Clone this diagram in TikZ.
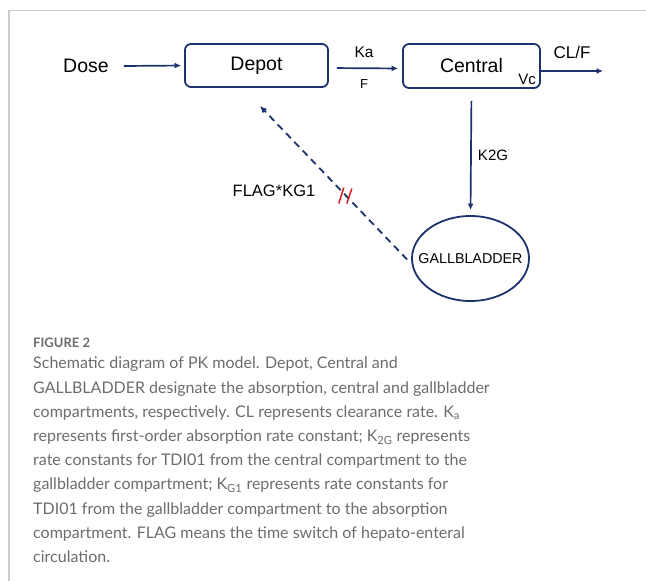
\documentclass[tikz,border=0pt]{standalone}
\usepackage{fontspec}
\setmainfont{Liberation Sans}
\newfontfamily\capfont{Lato}
\usetikzlibrary{arrows.meta,shapes.geometric,calc}
\definecolor{navy}{RGB}{28,50,108}
\definecolor{framegray}{RGB}{205,205,205}
\definecolor{capgray}{RGB}{108,108,108}
\definecolor{cutred}{RGB}{228,30,30}
\tikzset{
  compbox/.style={draw=navy, line width=1.8pt, rounded corners=6pt, font=\fontsize{19.5}{21}\selectfont},
  flow/.style={draw=navy, line width=1.7pt, -{Latex[length=6.5pt,width=6pt]}},
  lbl/.style={font=\fontsize{15}{17}\selectfont, inner sep=0pt},
}
\begin{document}
\begin{tikzpicture}[x=1pt,y=-1pt]
\useasboundingbox (0,0) rectangle (646,581);
% page frame
\draw[framegray, line width=1.4pt] (9,581) -- (9,10.5) -- (646,10.5);

% compartments
\node[compbox, minimum width=143pt, minimum height=43pt] (depot) at (256.5,65.5) {Depot};
\node[compbox, minimum width=137pt, minimum height=44pt] (central) at (471.5,66) {Central};
\node[draw=navy, line width=1.8pt, ellipse, inner sep=0pt, minimum width=117pt, minimum height=85pt,
      label={[font=\fontsize{14.3}{16}\selectfont]center:GALLBLADDER}] (gb) at (470.5,258.5) {};

% dose input
\node[font=\fontsize{19.5}{21}\selectfont, inner xsep=15pt] (dose) at (86,66) {Dose};
\draw[flow, shorten >=3pt] (dose.east) -- (depot.west);

% absorption
\draw[flow, shorten <=8pt, shorten >=4pt] ([yshift=-2.5pt]depot.east) -- ([yshift=-2.5pt]central.west);
\node[lbl, font=\fontsize{15.5}{17}\selectfont] (ka) at (364,52) {Ka};
\node[lbl, font=\fontsize{13}{15}\selectfont] (f) at (364,84) {F};

% clearance
\coordinate (clout) at (603,71);
\draw[flow] (central.east |- clout) -- (clout);
\node[lbl, font=\fontsize{17}{19}\selectfont] (clf) at (572,52) {CL/F};
\node[lbl] (vc) at (527,79) {Vc};

% central to gallbladder
\draw[flow, shorten <=12pt, shorten >=5pt] (central.south) -- (gb.north);
\node[lbl] (k2g) at (493,155) {K2G};

% gallbladder emptying back to depot
\coordinate (fbtail) at ([xshift=-4pt,yshift=-1pt]gb.west);
\coordinate (fbtip) at (260,106);
\draw[navy, line width=1.8pt, dash pattern=on 7pt off 5pt, -{Latex[length=7pt,width=6.5pt]}] (fbtail) -- (fbtip);
\path (fbtail) -- (fbtip) coordinate[pos=0.42] (cut);
\draw[cutred, line width=1.5pt] ($(cut)+(-6.5,8.5)$) -- ($(cut)+(-1.5,-7.5)$);
\draw[cutred, line width=1.5pt] ($(cut)+(1.5,8.5)$) -- ($(cut)+(6.5,-6.5)$);
\node[lbl, font=\fontsize{16.5}{18}\selectfont] (flag) at (274,191) {FLAG*KG1};

% caption
\node[anchor=west, inner sep=0pt, text=capgray, font=\capfont\bfseries\fontsize{13}{15}\selectfont] (fig) at (33,343) {FIGURE 2};
\node[anchor=north west, inner sep=0pt, text=capgray, align=left,
      font=\capfont\fontsize{16}{24.2}\selectfont] (cap) at (33,357) {%
Schematic diagram of PK model. Depot, Central and\\
GALLBLADDER designate the absorption, central and gallbladder\\
compartments, respectively. CL represents clearance rate. K\textsubscript{a}\\
represents first-order absorption rate constant; K\textsubscript{2G} represents\\
rate constants for TDI01 from the central compartment to the\\
gallbladder compartment; K\textsubscript{G1} represents rate constants for\\
TDI01 from the gallbladder compartment to the absorption\\
compartment. FLAG means the time switch of hepato-enteral\\
circulation.};
\end{tikzpicture}
\end{document}
